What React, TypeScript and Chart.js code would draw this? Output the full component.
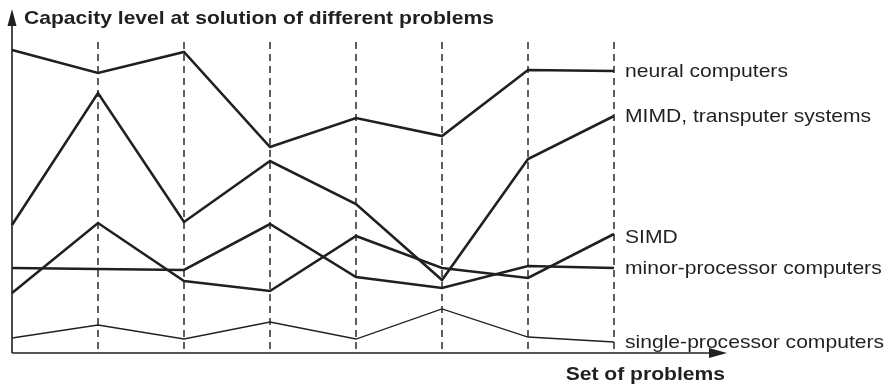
import React, { useEffect, useRef } from "react";
import { Chart, registerables } from "chart.js";
Chart.register(...registerables);

// ---- data ----
const problems = [0, 1, 2, 3, 4, 5, 6, 7];
const seriesNames = [
  "neural computers",
  "MIMD, transputer systems",
  "SIMD",
  "minor-processor computers",
  "single-processor computers",
];
const neural = [303, 280, 301, 206, 235, 217, 283, 282];
const mimd = [128, 260, 131, 192, 149, 73, 194, 237];
const simd = [60, 130, 72, 62, 117, 85, 75, 119];
const minor = [85, 84, 83, 129, 76, 65, 87, 85];
const single = [15, 28, 14, 31, 14, 44, 16, 11];
const yTitle = "Capacity level at solution of different problems";
const xTitle = "Set of problems";
const yMin = 0;
const yMax = 311;

const INK = "#231f20";
const STRETCH = 1.11;

function stretchedText(
  ctx: CanvasRenderingContext2D,
  text: string,
  x: number,
  y: number,
  font: string,
  align: CanvasTextAlign = "left"
) {
  ctx.save();
  ctx.translate(x, y);
  ctx.scale(STRETCH, 1);
  ctx.font = font;
  ctx.fillStyle = INK;
  ctx.textAlign = align;
  ctx.textBaseline = "alphabetic";
  ctx.fillText(text, 0, 0);
  ctx.restore();
}

const decorPlugin = {
  id: "decor",
  beforeDatasetsDraw(chart: any) {
    const { ctx, chartArea, scales } = chart;
    ctx.save();
    ctx.strokeStyle = "#2a2a2a";
    ctx.lineWidth = 1.5;
    ctx.setLineDash([7, 5]);
    for (let i = 1; i < problems.length; i++) {
      const x = scales.x.getPixelForValue(problems[i]);
      ctx.beginPath();
      ctx.moveTo(x, chartArea.top);
      ctx.lineTo(x, chartArea.bottom);
      ctx.stroke();
    }
    ctx.restore();
  },
  afterDraw(chart: any) {
    const { ctx, chartArea, scales } = chart;
    const left = chartArea.left;
    const bottom = chartArea.bottom;
    ctx.save();
    ctx.strokeStyle = INK;
    ctx.fillStyle = INK;
    ctx.lineWidth = 1.6;
    ctx.setLineDash([]);
    // y axis
    ctx.beginPath();
    ctx.moveTo(left, bottom);
    ctx.lineTo(left, 24);
    ctx.stroke();
    ctx.beginPath();
    ctx.moveTo(left, 9);
    ctx.lineTo(left - 4.5, 26);
    ctx.lineTo(left + 4.5, 26);
    ctx.closePath();
    ctx.fill();
    // x axis
    const tipX = chartArea.right + 113;
    ctx.beginPath();
    ctx.moveTo(left, bottom);
    ctx.lineTo(tipX - 14, bottom);
    ctx.stroke();
    ctx.beginPath();
    ctx.moveTo(tipX, bottom);
    ctx.lineTo(tipX - 18, bottom - 5);
    ctx.lineTo(tipX - 18, bottom + 5);
    ctx.closePath();
    ctx.fill();
    ctx.restore();

    // titles
    stretchedText(ctx, yTitle, left + 12, 24, "bold 19px 'Liberation Sans', Arial, sans-serif");
    stretchedText(ctx, xTitle, tipX - 2, 380, "bold 19px 'Liberation Sans', Arial, sans-serif", "right");

    // series labels at line ends
    chart.data.datasets.forEach((ds: any, i: number) => {
      const last = ds.data[ds.data.length - 1];
      const y = scales.y.getPixelForValue(last.y);
      const off = i === 2 ? 9 : 6;
      stretchedText(ctx, seriesNames[i], chartArea.right + 11, y + off, "19px 'Liberation Sans', Arial, sans-serif");
    });
  },
};

export default function App() {
  const ref = useRef<HTMLCanvasElement | null>(null);
  useEffect(() => {
    const canvas = ref.current!;
    const mk = (vals: number[], w: number) => ({
      data: vals.map((v, i) => ({ x: problems[i], y: v })),
      borderColor: INK,
      borderWidth: w,
      pointRadius: 0,
      tension: 0,
      fill: false,
      clip: false as any,
      borderJoinStyle: "miter" as const,
    });
    const chart = new Chart(canvas, {
      type: "line",
      data: {
        datasets: [
          mk(neural, 2.6),
          mk(mimd, 2.6),
          mk(simd, 2.6),
          mk(minor, 2.6),
          mk(single, 1.3),
        ],
      },
      options: {
        animation: false,
        responsive: false,
        devicePixelRatio: 1,
        layout: { padding: { left: 12, right: 279, top: 42, bottom: 33 } },
        plugins: { legend: { display: false }, tooltip: { enabled: false }, title: { display: false } },
        scales: {
          x: { type: "linear", min: problems[0], max: problems[problems.length - 1], display: false },
          y: { type: "linear", min: yMin, max: yMax, display: false },
        },
      },
      plugins: [decorPlugin],
    });
    return () => chart.destroy();
  }, []);
  return (
    <div style={{ position: "absolute", left: 0, top: 0, width: 893, height: 386, background: "#fff" }}>
      <canvas ref={ref} width={893} height={386} style={{ width: 893, height: 386, display: "block" }} />
    </div>
  );
}
